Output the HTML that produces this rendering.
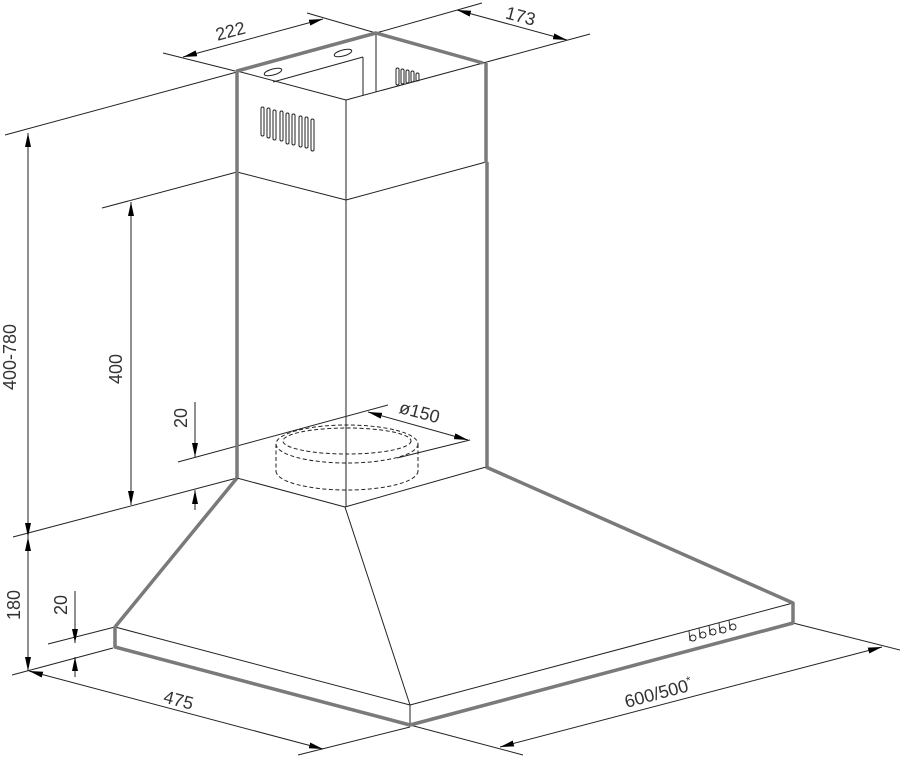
<!DOCTYPE html>
<html><head><meta charset="utf-8"><style>
html,body{margin:0;padding:0;background:#fff;}
svg{display:block;}
text{font-family:"Liberation Sans",sans-serif;font-size:18px;fill:#333;}
</style></head><body>
<svg width="900" height="759" viewBox="0 0 900 759" xmlns="http://www.w3.org/2000/svg">
<defs>
<marker id="a" viewBox="0 0 14 6" refX="14" refY="3" markerWidth="14" markerHeight="6" markerUnits="userSpaceOnUse" orient="auto-start-reverse">
<path d="M0,0 L14,3 L0,6 Z" fill="#000"/></marker>
</defs>
<g fill="none" stroke="#222" stroke-width="1">
<line x1="237" y1="71" x2="346" y2="100"/>
<line x1="346" y1="100" x2="483" y2="63"/>
<line x1="273" y1="82" x2="363" y2="57"/>
<line x1="363" y1="57" x2="363" y2="95"/>
<line x1="376" y1="33" x2="376" y2="92"/>
<line x1="237" y1="172" x2="346" y2="200"/>
<line x1="346" y1="200" x2="486" y2="162"/>
<line x1="346" y1="100" x2="346" y2="507"/>
<line x1="237" y1="478" x2="345" y2="507"/>
<line x1="345" y1="507" x2="486" y2="467"/>
<line x1="345" y1="507" x2="410" y2="705"/>
<line x1="115" y1="627" x2="410" y2="705"/>
<line x1="410" y1="705" x2="793" y2="603"/>
<line x1="410" y1="705" x2="410" y2="725"/>
<ellipse cx="273" cy="72" rx="9" ry="3" transform="rotate(-15 273 72)"/>
<ellipse cx="343" cy="53" rx="9" ry="3" transform="rotate(-15 343 53)"/>
<rect x="261" y="107" width="3" height="29" rx="1.5"/>
<rect x="267" y="108" width="3" height="30" rx="1.5"/>
<rect x="273" y="110" width="3" height="30" rx="1.5"/>
<rect x="280" y="111" width="3" height="30" rx="1.5"/>
<rect x="286" y="113" width="3" height="31" rx="1.5"/>
<rect x="292" y="114" width="3" height="31" rx="1.5"/>
<rect x="299" y="116" width="3" height="31" rx="1.5"/>
<rect x="305" y="117" width="3" height="31" rx="1.5"/>
<rect x="311" y="119" width="3" height="32" rx="1.5"/>
<rect x="396" y="68" width="3" height="17" rx="1.5"/>
<rect x="401" y="69" width="3" height="15" rx="1.5"/>
<rect x="406" y="70" width="3" height="13" rx="1.5"/>
<rect x="411" y="71" width="3" height="11" rx="1.5"/>
<rect x="416" y="73" width="3" height="8" rx="1.5"/>
<g stroke-dasharray="4,2.5">
<ellipse cx="347" cy="444" rx="71" ry="19"/>
<ellipse cx="347" cy="441" rx="64" ry="13"/>
<path d="M276,471 A71,19 0 0 0 418,471"/>
<line x1="276" y1="444" x2="276" y2="471"/>
<line x1="418" y1="444" x2="418" y2="471"/>
</g>
<g stroke-width="0.9">
<circle cx="693" cy="638" r="3"/><circle cx="703" cy="635" r="3"/><circle cx="713" cy="632" r="3"/><circle cx="723" cy="630" r="3"/><circle cx="733" cy="627" r="3"/>
<line x1="689" y1="631" x2="690" y2="641"/><line x1="699" y1="628" x2="700" y2="638"/><line x1="709" y1="625" x2="710" y2="635"/><line x1="719" y1="623" x2="720" y2="633"/><line x1="729" y1="620" x2="730" y2="630"/>
</g>
<line x1="163" y1="53" x2="235" y2="71"/>
<line x1="307" y1="13" x2="376" y2="33"/>
<line x1="376" y1="33" x2="482" y2="3"/>
<line x1="483" y1="63" x2="590" y2="34"/>
<line x1="5" y1="135" x2="237" y2="72"/>
<line x1="102" y1="208" x2="237" y2="172"/>
<line x1="13" y1="537" x2="237" y2="478"/>
<line x1="178" y1="462" x2="388" y2="405"/>
<line x1="397" y1="458" x2="470" y2="440"/>
<line x1="48" y1="644" x2="115" y2="627"/>
<line x1="12" y1="675" x2="113" y2="648"/>
<line x1="410" y1="727" x2="298" y2="755"/>
<line x1="410" y1="725" x2="523" y2="755"/>
<line x1="793" y1="623" x2="900" y2="650"/>
<line x1="183" y1="57" x2="323" y2="19" marker-start="url(#a)" marker-end="url(#a)"/>
<line x1="457" y1="10" x2="567" y2="40" marker-start="url(#a)" marker-end="url(#a)"/>
<line x1="28" y1="133" x2="28" y2="537" marker-start="url(#a)" marker-end="url(#a)"/>
<line x1="28" y1="537" x2="28" y2="671" marker-start="url(#a)" marker-end="url(#a)"/>
<line x1="131" y1="202" x2="131" y2="505" marker-start="url(#a)" marker-end="url(#a)"/>
<line x1="195" y1="402" x2="195" y2="457" marker-end="url(#a)"/>
<line x1="195" y1="510" x2="195" y2="490" marker-end="url(#a)"/>
<line x1="368" y1="412" x2="468" y2="440" marker-start="url(#a)" marker-end="url(#a)"/>
<line x1="75" y1="591" x2="75" y2="643" marker-end="url(#a)"/>
<line x1="75" y1="677" x2="75" y2="657" marker-end="url(#a)"/>
<line x1="29" y1="671" x2="323" y2="749" marker-start="url(#a)" marker-end="url(#a)"/>
<line x1="500" y1="747" x2="882" y2="647" marker-start="url(#a)" marker-end="url(#a)"/>
</g>
<g fill="none" stroke="#7a7a7a" stroke-width="3.5" stroke-linejoin="round">
<path d="M237,478 L237,71 L376,33 L483,63"/>
<line x1="486" y1="63" x2="486" y2="163"/>
<line x1="487" y1="162" x2="487" y2="467"/>
<path d="M237,478 L115,627 L115,647 L410,725 L793,623 L793,603 L486,467"/>
</g>
<text transform="translate(232,37) rotate(-15)" text-anchor="middle">222</text>
<text transform="translate(519,22) rotate(15)" text-anchor="middle">173</text>
<text transform="translate(16,357) rotate(-90)" text-anchor="middle">400-780</text>
<text transform="translate(122,369) rotate(-90)" text-anchor="middle">400</text>
<text transform="translate(187,418) rotate(-90)" text-anchor="middle">20</text>
<text transform="translate(418,418) rotate(15)" text-anchor="middle">ø150</text>
<text transform="translate(20,605) rotate(-90)" text-anchor="middle">180</text>
<text transform="translate(67,605) rotate(-90)" text-anchor="middle">20</text>
<text transform="translate(177,706) rotate(15)" text-anchor="middle">475</text>
<text transform="translate(660,699) rotate(-15)" text-anchor="middle">600/500<tspan font-size="11" dy="-7">*</tspan></text>
</svg>
</body></html>
